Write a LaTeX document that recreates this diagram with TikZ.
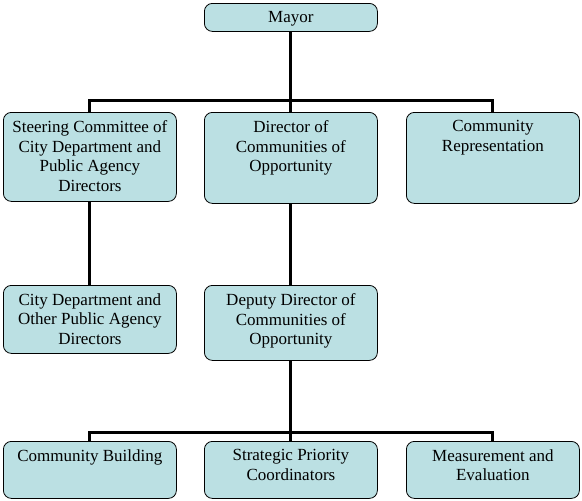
\documentclass[tikz,border=0pt]{standalone}
\usepackage{fontspec}
\setmainfont{Liberation Serif}
\definecolor{boxfill}{HTML}{BBE0E3}
\begin{document}
\begin{tikzpicture}[x=1pt,y=-1pt,
  orgbox/.style={draw=black,line width=0.8pt,fill=boxfill,rounded corners=8pt,inner sep=0pt,anchor=north west,font=\fontsize{17}{19.7}\selectfont},
  link/.style={line width=3pt,black}]
\useasboundingbox (0,0) rectangle (582,501);
\newcommand{\bx}[2]{\parbox[c][#1pt][t]{173pt}{\centering\vspace*{8pt}#2\par}}
\node[orgbox] (mayor) at (204,3) {\bx{28}{Mayor}};
\node[orgbox] (steer) at (3,112) {\bx{89}{Steering Committee of\\City Department and\\Public Agency\\Directors}};
\node[orgbox] (dir) at (204,112) {\bx{91}{Director of\\Communities of\\Opportunity}};
\node[orgbox] (comm) at (406,112) {\bx{91}{Community\\Representation}};
\node[orgbox] (city) at (3,285) {\bx{68}{City Department and\\Other Public Agency\\Directors}};
\node[orgbox] (dep) at (204,285) {\bx{75}{Deputy Director of\\Communities of\\Opportunity}};
\node[orgbox] (cb) at (3,441) {\bx{57}{Community Building}};
\node[orgbox] (sp) at (204,441) {\bx{57}{Strategic Priority\\Coordinators}};
\node[orgbox] (me) at (406,441) {\bx{57}{Measurement and\\Evaluation}};
\draw[link] (mayor.south) -- (dir.north);
\draw[link] (steer.north) -- ++(0,-12) -| (comm.north);
\draw[link] (steer.south) -- (city.north);
\draw[link] (dir.south) -- (dep.north);
\draw[link] (dep.south) -- (sp.north);
\draw[link] (cb.north) -- ++(0,-9) -| (me.north);
\end{tikzpicture}
\end{document}
